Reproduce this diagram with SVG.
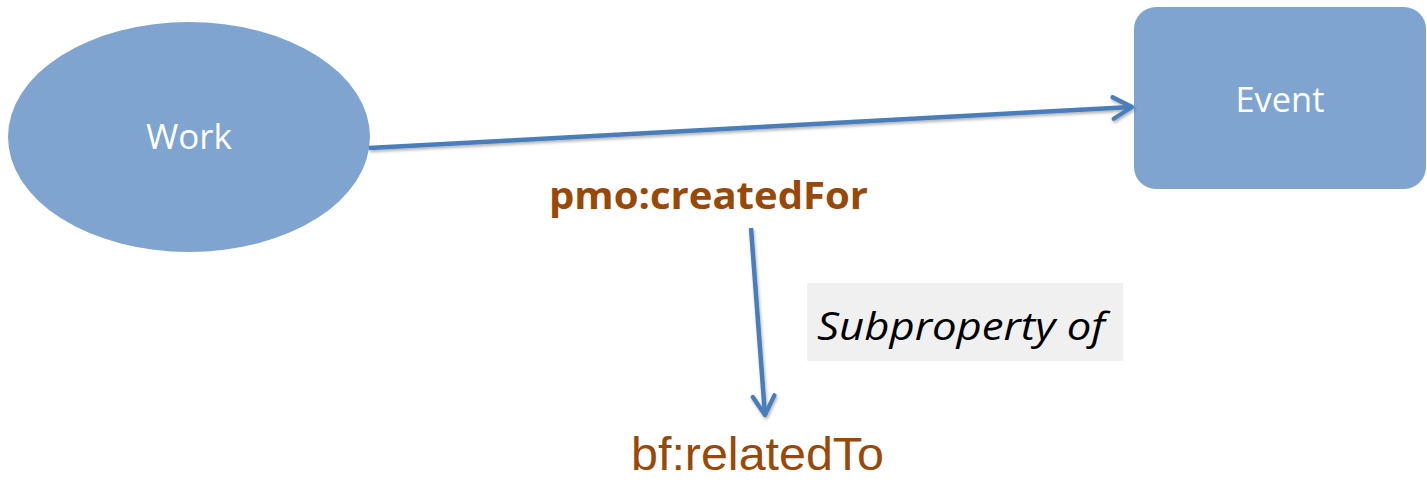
<svg xmlns="http://www.w3.org/2000/svg" width="1427" height="483" viewBox="0 0 1427 483">
<style>
.node{fill:#7FA4D0;}
.nlabel{fill:#FFFFFF;font-family:"Open Sans","Noto Sans",sans-serif;font-size:34px;text-anchor:middle;}
.conn{stroke:#4A7EBB;stroke-width:4.5;fill:none;}
.prop{fill:#984807;}
.bold{font-family:"Open Sans","Noto Sans",sans-serif;font-weight:bold;font-size:37px;}
.arial{font-family:"Liberation Sans",Arial,sans-serif;font-size:46px;}
</style>
<defs>
<marker id="arr" viewBox="0 0 20 20" refX="18" refY="10" markerWidth="6" markerHeight="6" markerUnits="strokeWidth" orient="auto">
<path d="M4,2 L18,10 L4,18" fill="none" stroke="#4A7EBB" stroke-width="3.2" stroke-linecap="round" stroke-linejoin="round"/>
</marker>
<filter id="sh" filterUnits="userSpaceOnUse" x="0" y="0" width="1427" height="483">
<feDropShadow dx="1" dy="2" stdDeviation="1.5" flood-color="#000" flood-opacity="0.3"/>
</filter>
</defs>
<g id="work">
<ellipse class="node" cx="189" cy="137" rx="181" ry="115"/>
<text class="nlabel" x="189" y="149" textLength="86" lengthAdjust="spacingAndGlyphs">Work</text>
</g>
<g id="event">
<rect class="node" x="1134" y="7" width="292" height="182" rx="22"/>
<text class="nlabel" x="1280" y="112" textLength="89" lengthAdjust="spacingAndGlyphs">Event</text>
</g>
<g id="connectors" filter="url(#sh)">
<line class="conn" x1="369" y1="148" x2="1132" y2="107" marker-end="url(#arr)"/>
<line class="conn" x1="751" y1="228" x2="765" y2="415" marker-end="url(#arr)"/>
</g>
<g id="label-createdFor">
<text class="prop bold" x="549" y="209" textLength="319" lengthAdjust="spacingAndGlyphs">pmo:createdFor</text>
</g>
<g id="label-subproperty">
<rect x="807" y="283" width="316" height="78" fill="#F0F0F0"/>
<text x="817" y="340" font-family="'Open Sans','Noto Sans',sans-serif" font-style="italic" font-size="39" fill="#000" textLength="288" lengthAdjust="spacingAndGlyphs">Subproperty of</text>
</g>
<g id="relatedTo">
<text class="prop arial" x="631" y="470" textLength="253" lengthAdjust="spacingAndGlyphs">bf:relatedTo</text>
</g>
</svg>
